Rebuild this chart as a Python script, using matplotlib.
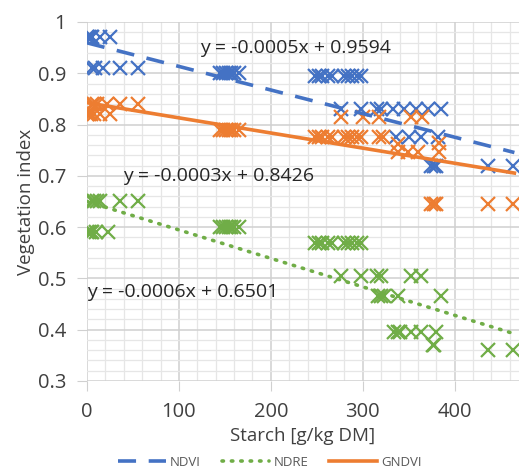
import matplotlib
matplotlib.use("Agg")
import matplotlib.pyplot as plt
from matplotlib.ticker import MultipleLocator
import numpy as np

plt.rcParams['font.family'] = ['Open Sans', 'DejaVu Sans']

# NDVI samples
ndvi_x = [0, 2, 4, 6, 14, 25,
          5, 9, 17, 36, 55,
          145, 148, 151, 154, 157, 160, 165,
          248, 252, 256, 262, 267, 280, 284, 288, 294, 298,
          276, 298, 316, 320, 333, 345, 358, 371, 385,
          336, 350, 363, 382,
          374, 377, 380, 436, 463]
ndvi_y = [0.97] * 6 + [0.91] * 5 + [0.90] * 7 + [0.895] * 10 + \
         [0.83] * 9 + [0.775] * 4 + [0.72] * 5

# NDRE samples
ndre_x = [0, 2, 4, 6, 10, 23,
          5, 8, 11, 14, 36, 56,
          145, 148, 151, 154, 157, 160, 165,
          248, 252, 256, 262, 267, 280, 284, 288, 294, 298,
          276, 298, 316, 320, 352, 363,
          317, 320, 323, 338, 385,
          334, 338, 341, 352, 363, 380,
          376, 378, 436, 463]
ndre_y = [0.59] * 6 + [0.65] * 6 + [0.60] * 7 + [0.57] * 10 + \
         [0.505] * 6 + [0.465] * 5 + [0.395] * 6 + [0.37, 0.37, 0.36, 0.36]

# GNDVI samples
gndvi_x = [0, 2, 4, 8, 14, 25,
           5, 8, 11, 22, 36, 56,
           145, 148, 151, 154, 157, 160, 165,
           248, 252, 256, 262, 267, 280, 284, 288, 294, 298, 318, 322,
           276, 300, 318, 352, 364,
           338, 383,
           338, 349, 360, 383,
           374, 377, 380, 436, 463]
gndvi_y = [0.82] * 6 + [0.84] * 6 + [0.79] * 7 + [0.775] * 12 + \
          [0.815] * 5 + [0.762, 0.765] + [0.747] * 4 + [0.645] * 5

# trendline coefficients (slope, intercept) and labels
ndvi_fit = [-0.00046, 0.9594]
ndre_fit = [-0.000555, 0.6501]
gndvi_fit = [-0.000295, 0.8426]
eq_labels = ["y = -0.0005x + 0.9594", "y = -0.0003x + 0.8426", "y = -0.0006x + 0.6501"]

blue = "#4472C4"
orange = "#ED7D31"
green = "#70AD47"

fig = plt.figure(figsize=(5.19, 4.72), dpi=100)
ax = fig.add_axes([0.1676, 0.1928, 0.8324, 0.7606])

for xs, ys, c in [(ndvi_x, ndvi_y, blue), (gndvi_x, gndvi_y, orange), (ndre_x, ndre_y, green)]:
    ax.plot(xs, ys, linestyle='none', marker='x', markersize=9.5,
            markeredgewidth=1.6, color=c, zorder=3)

xx = np.array([0, 465])
ax.plot(xx, ndvi_fit[0] * xx + ndvi_fit[1], color=blue, lw=2.6,
        dashes=(5, 3.5), label='NDVI', zorder=4)
ax.plot(xx, ndre_fit[0] * xx + ndre_fit[1], color=green, lw=2.6,
        dashes=(0.4, 2.2), dash_capstyle='round', label='NDRE', zorder=4)
ax.plot(xx, gndvi_fit[0] * xx + gndvi_fit[1], color=orange, lw=2.6,
        label='GNDVI', zorder=4)

ax.text(123, 0.949, eq_labels[0], fontsize=14, color='#262626', va='center', zorder=5)
ax.text(39, 0.70, eq_labels[1], fontsize=14, color='#262626', va='center', zorder=5)
ax.text(0, 0.474, eq_labels[2], fontsize=14, color='#262626', va='center', zorder=5)

ax.set_xlim(0, 470)
ax.set_ylim(0.3, 1.0)
ax.xaxis.set_major_locator(MultipleLocator(100))
ax.xaxis.set_minor_locator(MultipleLocator(20))
ax.yaxis.set_major_locator(MultipleLocator(0.1))
ax.yaxis.set_minor_locator(MultipleLocator(0.02))
ax.set_yticks(np.arange(0.3, 1.01, 0.1))
ax.set_yticklabels(["0.3", "0.4", "0.5", "0.6", "0.7", "0.8", "0.9", "1"])
ax.grid(which='major', color='#d0d0d0', lw=1.1)
ax.grid(which='minor', color='#e6e6e6', lw=0.9)
ax.set_axisbelow(True)
for s in ax.spines.values():
    s.set_visible(False)
ax.tick_params(which='major', length=7, color='#d0d0d0', labelsize=14.5,
               labelcolor='#404040', pad=8)
ax.tick_params(which='minor', length=0)

ax.set_xlabel("Starch [g/kg DM]", fontsize=13.5, color='#404040', labelpad=4)
ax.set_ylabel("Vegetation index", fontsize=13.5, color='#404040', labelpad=2)

fig.legend(loc='center', bbox_to_anchor=(0.52, 0.02), ncol=3, frameon=False,
           fontsize=9.5, labelcolor='#595959', handlelength=3.6,
           handletextpad=0.3, columnspacing=1.6)

fig.savefig("out.png", dpi=100)
